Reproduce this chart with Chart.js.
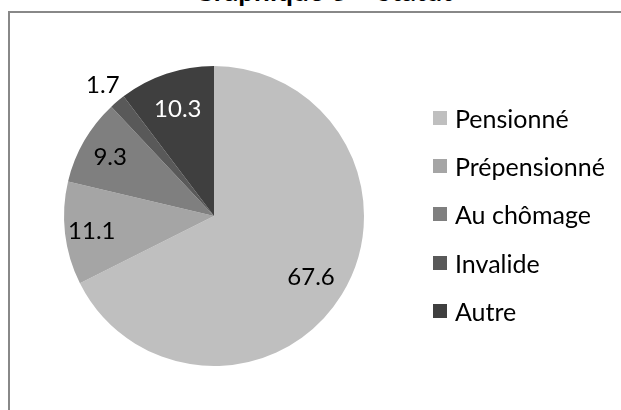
<!DOCTYPE html>
<html>
<head>
<meta charset="utf-8">
<script src="https://cdn.jsdelivr.net/npm/chart.js@4"></script>
<style>
  html, body { margin: 0; padding: 0; background: #fff; }
  #wrap { position: relative; width: 621px; height: 410px; overflow: hidden; }
  #frame { position: absolute; left: 8px; top: 11px; width: 700px; height: 500px; border: 2px solid #888; box-sizing: border-box; }
  #title { position: absolute; left: 0; width: 646px; top: -27px; text-align: center; font: bold 28px Lato, sans-serif; color: #000; }
  canvas { position: absolute; left: 0; top: 0; }
  #legend { position: absolute; left: 433px; top: 94px; font: 25px Lato, sans-serif; color: #000; }
  .row { height: 48.2px; display: flex; align-items: center; }
  .sw { width: 14px; height: 14px; margin-right: 8px; }
</style>
</head>
<body>
<div id="wrap">
  <div id="frame"></div>
  <div id="title">Graphique 3 – Statut</div>
  <canvas id="c" width="621" height="410"></canvas>
  <div id="legend"></div>
</div>
<script>
const categories = ['Pensionné', 'Prépensionné', 'Au chômage', 'Invalide', 'Autre'];
const values = [67.6, 11.1, 9.3, 1.7, 10.3];
const labels = ['67.6', '11.1', '9.3', '1.7', '10.3'];
const colors = ['#bfbfbf', '#a5a5a5', '#7f7f7f', '#595959', '#3f3f3f'];
const labelColors = ['#000', '#000', '#000', '#000', '#fff'];
const labelRadius = [0.76, 0.82, 0.80, 1.15, 0.76];

const labelPlugin = {
  id: 'sliceLabels',
  afterDatasetsDraw(chart) {
    const ctx = chart.ctx;
    const meta = chart.getDatasetMeta(0);
    ctx.save();
    ctx.font = '24px Lato, sans-serif';
    ctx.textAlign = 'center';
    ctx.textBaseline = 'middle';
    meta.data.forEach((arc, i) => {
      const p = arc.getProps(['x', 'y', 'startAngle', 'endAngle', 'outerRadius'], true);
      const mid = (p.startAngle + p.endAngle) / 2;
      const r = p.outerRadius * labelRadius[i];
      ctx.fillStyle = labelColors[i];
      ctx.fillText(labels[i], p.x + Math.cos(mid) * r, p.y + Math.sin(mid) * r + 1);
    });
    ctx.restore();
  }
};

new Chart(document.getElementById('c'), {
  type: 'pie',
  data: {
    labels: categories,
    datasets: [{ data: values, backgroundColor: colors, borderWidth: 0 }]
  },
  options: {
    responsive: false,
    animation: false,
    layout: { padding: { left: 64, right: 257, top: 66, bottom: 44 } },
    plugins: { legend: { display: false }, tooltip: { enabled: false } }
  },
  plugins: [labelPlugin]
});

const lg = document.getElementById('legend');
categories.forEach((c, i) => {
  const row = document.createElement('div');
  row.className = 'row';
  row.innerHTML = '<div class="sw" style="background:' + colors[i] + '"></div><span>' + c + '</span>';
  lg.appendChild(row);
});
</script>
</body>
</html>
